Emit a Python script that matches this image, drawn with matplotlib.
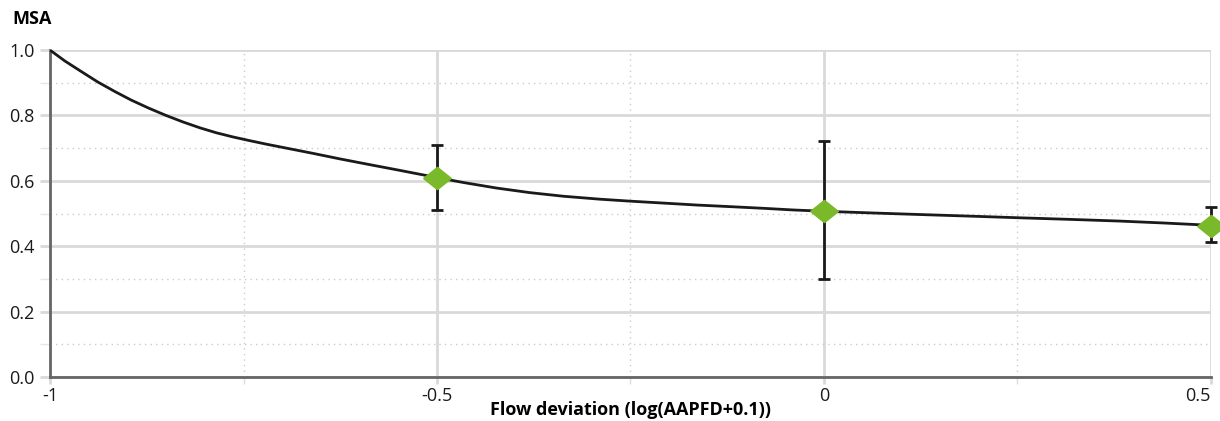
import matplotlib.pyplot as plt
from matplotlib.ticker import MultipleLocator

plt.rcParams['font.family'] = ['Open Sans', 'DejaVu Sans']

# curve
curve_x = [-1.0, -0.981, -0.96, -0.938, -0.916, -0.895, -0.873, -0.85, -0.828, -0.806,
           -0.785, -0.763, -0.742, -0.72, -0.69, -0.66, -0.625, -0.59, -0.55, -0.5,
           -0.466, -0.423, -0.38, -0.337, -0.29, -0.251, -0.2, -0.164, -0.12,
           -0.078, -0.04, 0.0, 0.06, 0.124, 0.19, 0.253, 0.32, 0.382, 0.44, 0.5]
curve_y = [1.0, 0.967, 0.935, 0.902, 0.873, 0.847, 0.823, 0.800, 0.780, 0.762,
           0.747, 0.734, 0.723, 0.712, 0.698, 0.684, 0.667, 0.651, 0.633, 0.610,
           0.595, 0.578, 0.564, 0.553, 0.544, 0.538, 0.531, 0.526, 0.521,
           0.516, 0.511, 0.507, 0.502, 0.497, 0.492, 0.487, 0.482, 0.477, 0.471, 0.464]

# observed points with error bars
pts_x = [-0.5, 0.0, 0.5]
pts_y = [0.610, 0.507, 0.463]
err_lo = [0.51, 0.30, 0.413]
err_hi = [0.709, 0.722, 0.519]

fig = plt.figure(figsize=(12.2, 4.21), dpi=100)
ax = fig.add_axes([0.041, 0.1045, 0.9516, 0.7765])

ax.plot(curve_x, curve_y, color='#1a1a1a', lw=2, zorder=3,
        solid_capstyle='round', solid_joinstyle='round')

yerr = [[y - lo for y, lo in zip(pts_y, err_lo)], [hi - y for y, hi in zip(pts_y, err_hi)]]
ax.errorbar(pts_x, pts_y, yerr=yerr, fmt='none', ecolor='#1a1a1a', elinewidth=2,
            capsize=4.5, capthick=2, zorder=4, clip_on=False)
diamond = [(-1, 0), (0, 0.8), (1, 0), (0, -0.8), (-1, 0)]
ax.plot(pts_x, pts_y, ls='none', marker=diamond, ms=20, color='#7ab929',
        mec='#7ab929', zorder=5, clip_on=False)

ax.set_xlim(-1, 0.5)
ax.set_ylim(0, 1.0)
ax.xaxis.set_minor_locator(MultipleLocator(0.25))
ax.yaxis.set_minor_locator(MultipleLocator(0.1))
ax.set_xticks([-1, -0.5, 0, 0.5])
ax.set_xticklabels(['-1', '-0.5', '0', '0.5'])
ax.set_yticks([0, 0.2, 0.4, 0.6, 0.8, 1.0])
ax.set_yticklabels(['0.0', '0.2', '0.4', '0.6', '0.8', '1.0'])
ax.get_xticklabels()[-1].set_ha('right')

ax.grid(which='major', color='#d9d9d9', lw=2)
ax.grid(which='minor', color='#cccccc', lw=1, ls=(0, (1, 3)))
ax.set_axisbelow(True)

for s in ['top', 'right']:
    ax.spines[s].set_visible(False)
for s in ['left', 'bottom']:
    ax.spines[s].set_color('#666666')
    ax.spines[s].set_linewidth(2)

ax.tick_params(labelsize=13, colors='#1a1a1a')
ax.tick_params(axis='x', which='major', length=5, color='#d9d9d9', width=2, pad=2)
ax.tick_params(axis='x', which='minor', length=5, color='#dddddd', width=1)
ax.tick_params(axis='y', which='major', length=7, color='#d9d9d9', width=2, pad=4)
ax.tick_params(axis='y', which='minor', length=7, color='#e6e6e6', width=1)

fig.text(0.5165, 0.026, 'Flow deviation (log(AAPFD+0.1))', fontsize=13,
         fontweight='bold', ha='center', va='center')
fig.text(0.01, 0.955, 'MSA', fontsize=13, fontweight='bold', va='center', ha='left')

fig.savefig('out.png', dpi=100)
